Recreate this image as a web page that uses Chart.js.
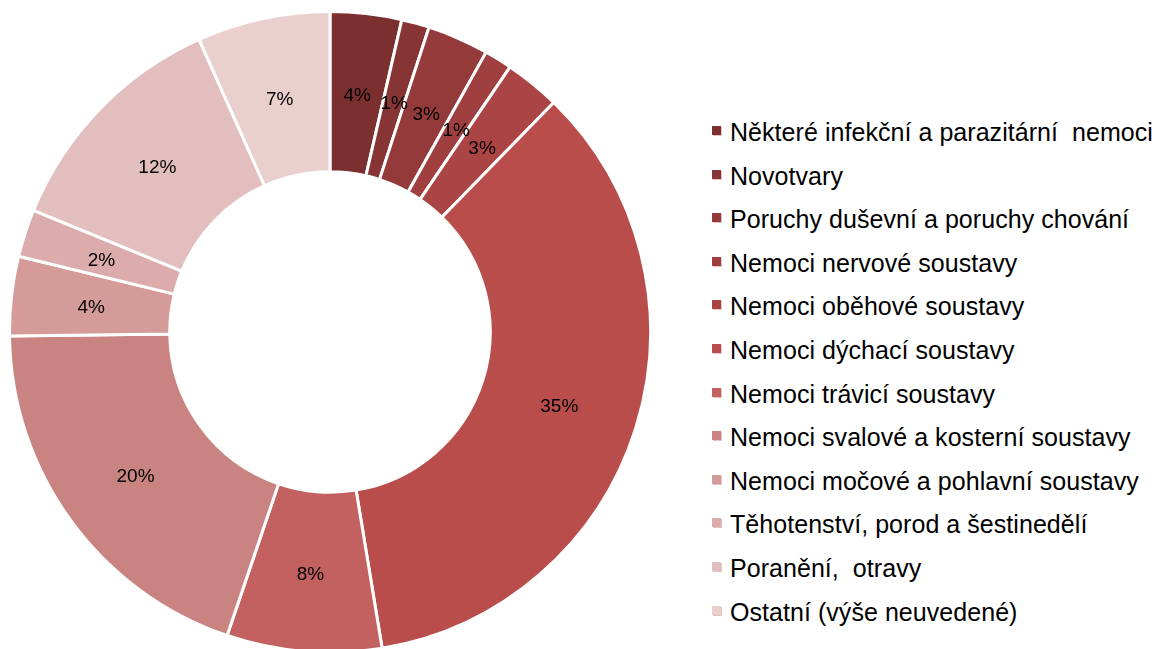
<!DOCTYPE html>
<html>
<head>
<meta charset="utf-8">
<script src="https://cdn.jsdelivr.net/npm/chart.js@4"></script>
<style>
  html, body { margin: 0; padding: 0; background: #fff; overflow: hidden; }
  body { width: 1155px; height: 649px; position: relative; }
  #ChartDiv { position: absolute; left: 8px; top: 10px; width: 644px; height: 644px; }
  #legend { position: absolute; left: 712px; top: 111px; font-family: "Liberation Sans", Arial, sans-serif;
            font-size: 25px; letter-spacing: 0.05px; color: #000; }
  #legend div { height: 43.6px; line-height: 43.6px; white-space: pre; }
  #legend span.box { display: inline-block; width: 9px; height: 9px; margin-right: 9px; vertical-align: 6px;
                     box-shadow: 1px 1px 0 #e2c4c4; }
</style>
</head>
<body>
<div id="ChartDiv"><canvas id="SimulChart"></canvas></div>
<div id="legend"></div>
<script>
/*Kategorie a podily (v %)*/
const labels = [
    'Některé infekční a parazitární  nemoci',
    'Novotvary',
    'Poruchy duševní a poruchy chování',
    'Nemoci nervové soustavy',
    'Nemoci oběhové soustavy',
    'Nemoci dýchací soustavy',
    'Nemoci trávicí soustavy',
    'Nemoci svalové a kosterní soustavy',
    'Nemoci močové a pohlavní soustavy',
    'Těhotenství, porod a šestinedělí',
    'Poranění,  otravy',
    'Ostatní (výše neuvedené)'
]
const values = [3.6, 1.4, 3.1, 1.4, 2.8, 35.1, 7.8, 19.6, 4.0, 2.4, 12.1, 6.7]
const colors = ['#7b2f2f', '#873434', '#943a3a', '#a03f3f', '#ab4545', '#b94d4c',
                '#c2615f', '#c98380', '#d49b98', '#dbacab', '#e2bfbe', '#eacfcf']

/*Vykresli procenta doprostred kazde vysece*/
const pctLabels = {
    id: 'pctLabels',
    afterDatasetsDraw(chart) {
        const ctx = chart.ctx
        const meta = chart.getDatasetMeta(0)
        const total = values.reduce((a, b) => a + b, 0)
        ctx.save()
        ctx.font = '19px "Liberation Sans", Arial, sans-serif'
        ctx.fillStyle = '#000'
        ctx.textAlign = 'center'
        ctx.textBaseline = 'middle'
        meta.data.forEach((arc, i) => {
            const p = arc.tooltipPosition()
            ctx.fillText(Math.round(values[i] / total * 100) + '%', p.x, p.y + 3)
        })
        ctx.restore()
    }
}

const ctx = document.getElementById('SimulChart').getContext('2d')
const SimulChart = new Chart(ctx, {
    type: 'doughnut',
    data: {
        labels: labels,
        datasets: [{
            data: values,
            backgroundColor: colors,
            borderColor: '#fff',
            borderWidth: 3
        }]
    },
    options: {
        responsive: true,
        maintainAspectRatio: false,
        animation: false,
        cutout: '50%',
        layout: { padding: 0 },
        plugins: {
            legend: { display: false },
            tooltip: { enabled: false }
        }
    },
    plugins: [pctLabels]
})

/*Legenda vpravo*/
const legend = document.getElementById('legend')
labels.forEach((name, i) => {
    const row = document.createElement('div')
    const box = document.createElement('span')
    box.className = 'box'
    box.style.background = colors[i]
    row.appendChild(box)
    row.appendChild(document.createTextNode(name))
    legend.appendChild(row)
})
</script>
</body>
</html>
